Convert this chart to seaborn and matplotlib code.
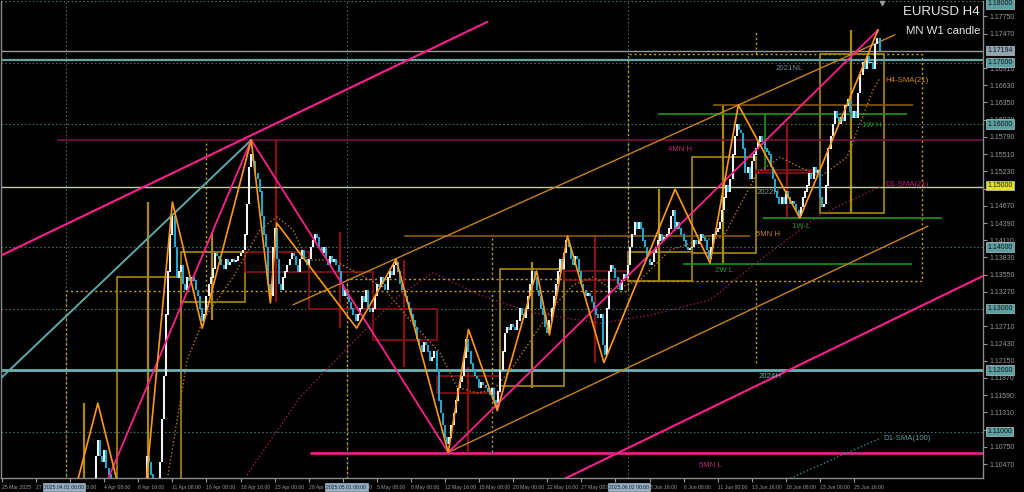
import numpy as np
import pandas as pd
import matplotlib.pyplot as plt
import matplotlib.transforms as mtransforms
from matplotlib.patches import Rectangle
import seaborn as sns

# ---- cierres H4 (EURUSD), 6 velas por dia, del 25 Mar al 27 Jun ----
closes = [
    1.0800, 1.0805, 1.0790, 1.0810, 1.0800, 1.0795,  # 25 Mar
    1.0790, 1.0780, 1.0770, 1.0760, 1.0755, 1.0752,  # 26 Mar
    1.0745, 1.0740, 1.0760, 1.0790, 1.0800, 1.0800,  # 27 Mar
    1.0805, 1.0800, 1.0815, 1.0830, 1.0825, 1.0830,  # 28 Mar
    1.0820, 1.0810, 1.0820, 1.0815, 1.0820, 1.0815,  # 31 Mar
    1.0810, 1.0800, 1.0790, 1.0795, 1.0790, 1.0792,  # 1 Apr
    1.0795, 1.0800, 1.0790, 1.0810, 1.0850, 1.0860,  # 2 Apr
    1.0900, 1.0980, 1.1060, 1.1085, 1.1060, 1.1050,  # 3 Apr
    1.1070, 1.1040, 1.1030, 1.1000, 1.0975, 1.0960,  # 4 Apr
    1.0940, 1.0920, 1.0900, 1.0930, 1.0910, 1.0910,  # 7 Apr
    1.0920, 1.0950, 1.0960, 1.0970, 1.0960, 1.0955,  # 8 Apr
    1.0960, 1.1010, 1.1060, 1.1050, 1.1030, 1.0990,  # 9 Apr
    1.0990, 1.1010, 1.1050, 1.1120, 1.1190, 1.1290,  # 10 Apr
    1.1360, 1.1420, 1.1450, 1.1400, 1.1350, 1.1360,  # 11 Apr
    1.1370, 1.1340, 1.1330, 1.1350, 1.1345, 1.1350,  # 14 Apr
    1.1345, 1.1330, 1.1320, 1.1300, 1.1280, 1.1290,  # 15 Apr
    1.1320, 1.1340, 1.1350, 1.1365, 1.1390, 1.1385,  # 16 Apr
    1.1380, 1.1370, 1.1365, 1.1380, 1.1370, 1.1375,  # 17 Apr
    1.1380, 1.1375, 1.1378, 1.1385, 1.1390, 1.1395,  # 18 Apr
    1.1420, 1.1470, 1.1530, 1.1550, 1.1540, 1.1520,  # 21 Apr
    1.1510, 1.1490, 1.1450, 1.1420, 1.1400, 1.1340,  # 22 Apr
    1.1320, 1.1400, 1.1430, 1.1380, 1.1340, 1.1330,  # 23 Apr
    1.1350, 1.1360, 1.1370, 1.1380, 1.1390, 1.1385,  # 24 Apr
    1.1370, 1.1360, 1.1380, 1.1395, 1.1380, 1.1370,  # 25 Apr
    1.1380, 1.1400, 1.1410, 1.1420, 1.1415, 1.1400,  # 28 Apr
    1.1390, 1.1400, 1.1380, 1.1370, 1.1385, 1.1375,  # 29 Apr
    1.1380, 1.1370, 1.1360, 1.1340, 1.1320, 1.1330,  # 30 Apr
    1.1320, 1.1310, 1.1300, 1.1290, 1.1280, 1.1290,  # 1 May
    1.1300, 1.1320, 1.1310, 1.1330, 1.1300, 1.1295,  # 2 May
    1.1300, 1.1320, 1.1340, 1.1335, 1.1350, 1.1340,  # 5 May
    1.1330, 1.1350, 1.1360, 1.1355, 1.1370, 1.1375,  # 6 May
    1.1360, 1.1340, 1.1330, 1.1320, 1.1310, 1.1300,  # 7 May
    1.1290, 1.1280, 1.1270, 1.1250, 1.1240, 1.1230,  # 8 May
    1.1245, 1.1240, 1.1230, 1.1215, 1.1220, 1.1230,  # 9 May
    1.1200, 1.1150, 1.1130, 1.1110, 1.1090, 1.1080,  # 12 May
    1.1090, 1.1110, 1.1130, 1.1150, 1.1170, 1.1180,  # 13 May
    1.1190, 1.1220, 1.1250, 1.1230, 1.1210, 1.1200,  # 14 May
    1.1190, 1.1185, 1.1170, 1.1180, 1.1175, 1.1170,  # 15 May
    1.1165, 1.1160, 1.1170, 1.1150, 1.1140, 1.1165,  # 16 May
    1.1200, 1.1230, 1.1260, 1.1270, 1.1265, 1.1275,  # 19 May
    1.1270, 1.1265, 1.1280, 1.1300, 1.1290, 1.1285,  # 20 May
    1.1300, 1.1320, 1.1340, 1.1360, 1.1350, 1.1330,  # 21 May
    1.1320, 1.1300, 1.1290, 1.1270, 1.1260, 1.1280,  # 22 May
    1.1300, 1.1320, 1.1340, 1.1360, 1.1380, 1.1365,  # 23 May
    1.1390, 1.1410, 1.1400, 1.1380, 1.1370, 1.1385,  # 26 May
    1.1380, 1.1360, 1.1340, 1.1330, 1.1320, 1.1325,  # 27 May
    1.1320, 1.1310, 1.1300, 1.1290, 1.1285, 1.1290,  # 28 May
    1.1240, 1.1225, 1.1300, 1.1360, 1.1370, 1.1365,  # 29 May
    1.1350, 1.1340, 1.1330, 1.1345, 1.1355, 1.1350,  # 30 May
    1.1370, 1.1400, 1.1420, 1.1440, 1.1430, 1.1440,  # 2 Jun
    1.1430, 1.1410, 1.1400, 1.1380, 1.1370, 1.1375,  # 3 Jun
    1.1390, 1.1400, 1.1410, 1.1420, 1.1410, 1.1415,  # 4 Jun
    1.1420, 1.1430, 1.1450, 1.1460, 1.1430, 1.1440,  # 5 Jun
    1.1430, 1.1420, 1.1410, 1.1400, 1.1395, 1.1398,  # 6 Jun
    1.1400, 1.1410, 1.1405, 1.1410, 1.1420, 1.1415,  # 9 Jun
    1.1410, 1.1395, 1.1380, 1.1400, 1.1420, 1.1425,  # 10 Jun
    1.1430, 1.1440, 1.1460, 1.1480, 1.1500, 1.1490,  # 11 Jun
    1.1510, 1.1550, 1.1580, 1.1600, 1.1590, 1.1585,  # 12 Jun
    1.1560, 1.1520, 1.1530, 1.1510, 1.1540, 1.1550,  # 13 Jun
    1.1560, 1.1570, 1.1580, 1.1570, 1.1560, 1.1555,  # 16 Jun
    1.1550, 1.1530, 1.1510, 1.1490, 1.1480, 1.1470,  # 17 Jun
    1.1480, 1.1470, 1.1490, 1.1480, 1.1470, 1.1475,  # 18 Jun
    1.1470, 1.1460, 1.1450, 1.1465, 1.1480, 1.1490,  # 19 Jun
    1.1500, 1.1520, 1.1510, 1.1530, 1.1520, 1.1525,  # 20 Jun
    1.1480, 1.1465, 1.1470, 1.1500, 1.1560, 1.1580,  # 23 Jun
    1.1600, 1.1620, 1.1610, 1.1600, 1.1610, 1.1605,  # 24 Jun
    1.1630, 1.1640, 1.1620, 1.1610, 1.1620, 1.1610,  # 25 Jun
    1.1650, 1.1680, 1.1700, 1.1690, 1.1710, 1.1700,  # 26 Jun
    1.1700, 1.1690, 1.1730, 1.1740, 1.1719,          # 27 Jun
]

# zigzag H4 (naranja) y zigzag mayor (rosa)
zz_bar = [17, 45, 64, 80, 94, 117, 126, 129, 166.5, 185, 209.5, 219, 232.5, 251, 257,
          265.5, 282.6, 316, 332.4, 345.7, 374.6, 411.3]
zz_price = [1.0775, 1.1146, 1.0880, 1.1473, 1.1268, 1.1574, 1.1309, 1.1439, 1.1268, 1.1380,
            1.1066, 1.1266, 1.1134, 1.1361, 1.1257, 1.1418, 1.1212, 1.1494, 1.1374, 1.1631,
            1.1447, 1.1753]
pk_bar = [14.4, 117, 209.5, 411.3]
pk_price = [1.0733, 1.1574, 1.1066, 1.1753]

# lineas de tendencia
teal_bar, teal_price = [-1, 117], [1.1185, 1.1574]
pink_up_bar, pink_up_price = [0, 227.8], [1.1387, 1.1766]
pink_lo_bar, pink_lo_price = [263.4, 460.6], [1.1022, 1.1353]
org_up_bar, org_up_price = [136.6, 419.2], [1.1306, 1.1745]
org_lo_bar, org_lo_price = [209.5, 434.7], [1.1066, 1.1434]

# medias moviles
h4sma_bar = [77.9, 86.9, 94.4, 108.5, 121.1, 129.1, 136.6, 143.2, 155.4, 178.9, 191.5, 205.6,
             213.6, 223.0, 230.5, 239.9, 249.3, 258.7, 268.1, 277.5, 286.9, 299.5, 313.6,
             327.7, 338.5, 354.5, 365.3, 384.0, 396.7, 408.9, 412.2]
h4sma_price = [1.1029, 1.1216, 1.1281, 1.1351, 1.1428, 1.1449, 1.1428, 1.1379, 1.1379, 1.1335,
               1.1281, 1.1228, 1.1172, 1.1163, 1.1167, 1.1205, 1.1254, 1.1302, 1.1338, 1.1351,
               1.1330, 1.1346, 1.1395, 1.1411, 1.1416, 1.1520, 1.1546, 1.1514, 1.1546, 1.1655,
               1.1675]
d1sma21_bar = [115, 139.9, 168.1, 186.9, 202.3, 224.4, 249.3, 280.8, 304.2, 332.4, 355.9, 384.0, 412.2]
d1sma21_price = [1.1029, 1.1156, 1.1257, 1.1322, 1.1358, 1.1322, 1.1293, 1.1276, 1.1289,
                 1.1314, 1.1379, 1.1452, 1.1498]
d1sma100_bar = [370, 412.2]
d1sma100_price = [1.1024, 1.1089]

# velas semanales (W1) y mensuales (MN)
wk_start = [24, 54, 84, 114, 144, 174, 204, 234, 264, 294, 324, 354, 384]
wk_open = [1.0816, 1.0955, 1.1311, 1.1392, 1.1360, 1.1300, 1.1190, 1.1174, 1.1361, 1.1344,
           1.1391, 1.1525, 1.1456]
wk_close = [1.0955, 1.1351, 1.1392, 1.1360, 1.1300, 1.1249, 1.1162, 1.1364, 1.1347, 1.1392,
            1.1547, 1.1521, 1.1714]
wk_high = [1.1146, 1.1473, 1.1425, 1.1574, 1.1425, 1.1379, 1.1205, 1.1376, 1.1420, 1.1494,
           1.1631, 1.1601, 1.1753]
wk_low = [1.0778, 1.0880, 1.1281, 1.1311, 1.1268, 1.1205, 1.1067, 1.1170, 1.1211, 1.1344,
          1.1374, 1.1449, 1.1456]
mn_start = [30, 162, 294]
mn_end = [162, 294, 432]
mn_mid = [96, 230, 354]
mn_open = [1.0816, 1.1328, 1.1345]
mn_close = [1.1328, 1.1348, 1.1714]
mn_high = [1.1573, 1.1420, 1.1753]
mn_low = [1.0733, 1.1067, 1.1211]

# niveles horizontales
level_price = [1.1574, 1.1065, 1.1418, 1.1631, 1.1616, 1.1447, 1.1373, 1.1200, 1.1704, 1.17194, 1.1497]
level_from = [25.8, 144.6, 188.7, 333.8, 308.0, 357.3, 319.7, -1, -1, -1, -1]
level_to = [461, 461, 351.2, 427.7, 424.9, 441.3, 427.2, 461, 461, 461, 461]
level_color = ['#7a1040', '#ff1f8e', '#8a5a0a', '#8a5a0a', '#159a15', '#159a15', '#159a15',
               '#6ab4b4', '#5fa8a8', '#9a9a9a', '#c2cfa8']
level_lw = [1.2, 1.8, 1.2, 1.2, 1.2, 1.2, 1.2, 2.0, 1.6, 1.0, 1.0]
round_levels = [1.18, 1.17, 1.16, 1.14, 1.13, 1.11]
month_lines = [30, 162, 294]
green_vbar, green_vtop, green_vbot = 358.2, 1.1616, 1.1526

# etiquetas de niveles
lbl_text = ['2021NL', 'H4-SMA(21)', '4MN H', '1W H', 'D1-SMA(21)', '2022H', '1W L', '5MN H',
            '2W L', '2024H', 'D1-SMA(100)', '5MN L']
lbl_bar = [363, 414.6, 312.7, 403.8, 414.6, 354.5, 370.9, 354.0, 334.7, 355.0, 414.0, 327.2]
lbl_price = [1.1691, 1.1670, 1.1558, 1.1598, 1.1501, 1.1488, 1.1434, 1.1420, 1.1361, 1.1190, 1.1089, 1.1044]
lbl_color = ['#6a8a9a', '#d08a1a', '#c0207a', '#1aa01a', '#c0207a', '#7a9aa0', '#1aa01a',
             '#c8821e', '#1aa01a', '#7aaab0', '#5a9a9a', '#c0207a']

# ejes
xtick_bars = [0, 16, 32, 48, 64, 80, 96, 112, 128, 144, 160, 176, 192, 208, 224, 240, 256,
              272, 288, 304, 320, 336, 352, 368, 384, 400]
xtick_labels = ['25 Mar 2025', '27 Mar 16:00', '1 Apr 08:00', '4 Apr 08:00', '8 Apr 16:00',
                '11 Apr 08:00', '16 Apr 08:00', '18 Apr 16:00', '23 Apr 00:00', '28 Apr 16:00',
                '30 Apr 16:00', '5 May 08:00', '8 May 00:00', '12 May 16:00', '15 May 08:00',
                '20 May 00:00', '22 May 16:00', '27 May 08:00', '30 May 00:00', '3 Jun 16:00',
                '6 Jun 08:00', '11 Jun 00:00', '13 Jun 16:00', '18 Jun 08:00', '23 Jun 00:00',
                '25 Jun 16:00']
xbox_bars = [29.1, 161.7, 294.4]
xbox_labels = ['2025.04.01 00:00', '2025.05.01 00:00', '2025.06.02 00:00']
ytick_vals = [1.17750, 1.17470, 1.16910, 1.16630, 1.16350, 1.16070, 1.15790, 1.15510,
              1.15230, 1.14950, 1.14670, 1.14390, 1.14110, 1.13830, 1.13550, 1.13270,
              1.12710, 1.12430, 1.12150, 1.11870, 1.11590, 1.11310, 1.11030, 1.10750, 1.10470]
ybox_vals = [1.18000, 1.17194, 1.17000, 1.16000, 1.15000, 1.14000, 1.13000, 1.12000, 1.11000]
ybox_color = ['#5f9ea0', '#93a4b0', '#5f9ea0', '#5f9ea0', '#e6e600', '#5f9ea0', '#5f9ea0',
              '#5f9ea0', '#5f9ea0']

# ---- figura ----
sns.set_theme(style="dark", rc={"axes.facecolor": "black", "figure.facecolor": "black"})
plt.rcParams['font.family'] = ['Liberation Sans', 'DejaVu Sans']

fig = plt.figure(figsize=(10.24, 4.92), dpi=100)
ax = fig.add_axes([1 / 1024, 14 / 492, 982 / 1024, 477 / 492])
ax.set_facecolor('black')
ax.set_xlim(-0.47, 460.56)
ax.set_ylim(1.10244, 1.18)

# lineas verticales de mes y niveles redondos punteados
for b in month_lines:
    ax.axvline(b, color='#4a5e5e', lw=0.8, ls=(0, (1.5, 2)), zorder=1)
for p in round_levels:
    ax.axhline(p, color='#3d6d6d', lw=0.8, ls=(0, (1.5, 2)), zorder=1)

# velas mensuales (punteadas)
for s, e, m, o, c, h, l in zip(mn_start, mn_end, mn_mid, mn_open, mn_close, mn_high, mn_low):
    ax.add_patch(Rectangle((s, min(o, c)), e - s, abs(c - o), fill=False,
                           ec='#c8a018', lw=1.0, ls=(0, (1.5, 2)), zorder=2))
    ax.vlines(m, max(o, c), h, color='#c8a018', lw=1.0, ls=(0, (1.5, 2)), zorder=2)
    ax.vlines(m, l, min(o, c), color='#c8a018', lw=1.0, ls=(0, (1.5, 2)), zorder=2)

# velas semanales
for s, o, c, h, l in zip(wk_start, wk_open, wk_close, wk_high, wk_low):
    col = '#a88a10' if c >= o else '#8c1010'
    ax.add_patch(Rectangle((s, min(o, c)), 30, abs(c - o), fill=False, ec=col, lw=1.2, zorder=2))
    ax.vlines(s + 14.6, l, h, color=col, lw=1.6, zorder=2)

# niveles horizontales
for p, a, b, col, w in zip(level_price, level_from, level_to, level_color, level_lw):
    ax.hlines(p, a, b, color=col, lw=w, zorder=2)
ax.vlines(green_vbar, green_vbot, green_vtop, color='#159a15', lw=1.2, zorder=2)

# velas H4
df = pd.DataFrame({'bar': np.arange(len(closes)), 'close': closes})
df['open'] = df['close'].shift(1).fillna(df['close'].iloc[0])
df['lo'] = df[['open', 'close']].min(axis=1)
df['hi'] = df[['open', 'close']].max(axis=1) + 0.00006
bull = df['close'] >= df['open']
ax.vlines(df.loc[bull, 'bar'], df.loc[bull, 'lo'], df.loc[bull, 'hi'], color='#f2f2f2', lw=1.5, zorder=4)
ax.vlines(df.loc[~bull, 'bar'], df.loc[~bull, 'lo'], df.loc[~bull, 'hi'], color='#22a6cc', lw=1.5, zorder=4)

# medias moviles
sns.lineplot(x=h4sma_bar, y=h4sma_price, ax=ax, color='#b8781a', lw=1.0, ls=':', sort=False, zorder=3)
sns.lineplot(x=d1sma21_bar, y=d1sma21_price, ax=ax, color='#9a1a5a', lw=1.0, ls=':', sort=False, zorder=3)
sns.lineplot(x=d1sma100_bar, y=d1sma100_price, ax=ax, color='#3c8c8c', lw=1.0, ls=':', sort=False, zorder=3)

# lineas de tendencia
sns.lineplot(x=teal_bar, y=teal_price, ax=ax, color='#5fa8a8', lw=1.4, sort=False, zorder=3)
sns.lineplot(x=pink_up_bar, y=pink_up_price, ax=ax, color='#ff1f8e', lw=1.5, sort=False, zorder=3)
sns.lineplot(x=pink_lo_bar, y=pink_lo_price, ax=ax, color='#ff1f8e', lw=1.5, sort=False, zorder=3)
sns.lineplot(x=org_up_bar, y=org_up_price, ax=ax, color='#c8821e', lw=1.0, sort=False, zorder=3)
sns.lineplot(x=org_lo_bar, y=org_lo_price, ax=ax, color='#c8821e', lw=1.0, sort=False, zorder=3)

# zigzags
sns.lineplot(x=pk_bar, y=pk_price, ax=ax, color='#ff1f8e', lw=1.3, sort=False, zorder=5)
sns.lineplot(x=zz_bar, y=zz_price, ax=ax, color='#ff9a10', lw=1.2, sort=False, zorder=5)

# etiquetas de niveles
for t, b, p, col in zip(lbl_text, lbl_bar, lbl_price, lbl_color):
    ax.text(b, p, t, color=col, fontsize=5.6, ha='left', va='center', zorder=6)

ax.text(0.997, 0.976, 'EURUSD H4', transform=ax.transAxes, color='#e6e6e6', fontsize=9.5,
        ha='right', va='center', zorder=7)
ax.text(0.997, 0.938, 'MN W1 candle', transform=ax.transAxes, color='#e6e6e6', fontsize=8.2,
        ha='right', va='center', zorder=7)
ax.plot([413], [1.1797], marker='v', color='#9a9a9a', ms=3, zorder=7, clip_on=False)

# ejes estilo MT
for side in ['left', 'right', 'bottom']:
    ax.spines[side].set_visible(True)
    ax.spines[side].set_color('#8a8a8a')
    ax.spines[side].set_linewidth(1.0)
ax.spines['top'].set_visible(False)
ax.yaxis.tick_right()
ax.set_yticks(ytick_vals)
ax.set_yticklabels([f'{v:.5f}' for v in ytick_vals])
ax.tick_params(axis='y', colors='#9a9a9a', labelsize=5.0, length=3, pad=1.5, width=0.8,
               direction='out', right=True, left=False)
ax.set_xticks(xtick_bars)
ax.set_xticklabels(xtick_labels, ha='left')
ax.tick_params(axis='x', colors='#9a9a9a', labelsize=3.7, length=3, pad=2, width=0.8,
               direction='out', bottom=True)
ax.grid(False)

ytrans = mtransforms.blended_transform_factory(ax.transAxes, ax.transData)
for v, col in zip(ybox_vals, ybox_color):
    yv = min(v, 1.17955)
    ax.text(1.0045, yv, f'{v:.5f}', transform=ytrans, color='#0a1a1a', fontsize=5.0,
            ha='left', va='center', clip_on=False, zorder=10,
            bbox=dict(boxstyle='square,pad=0.18', fc=col, ec='#b0c8c8', lw=0.5))

xtrans = mtransforms.blended_transform_factory(ax.transData, ax.transAxes)
for b, t in zip(xbox_bars, xbox_labels):
    ax.text(b, -0.019, t, transform=xtrans, color='#0a1a2a', fontsize=3.7, ha='center',
            va='center', clip_on=False, zorder=10,
            bbox=dict(boxstyle='square,pad=0.25', fc='#9ab0c2', ec='#9ab0c2', lw=0.5))

fig.savefig('out.png', dpi=100, facecolor='black')
